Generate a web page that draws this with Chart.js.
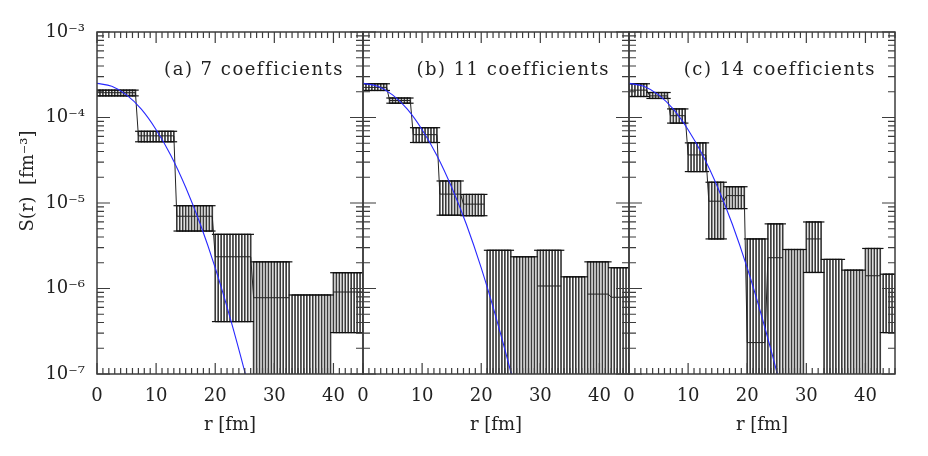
<!DOCTYPE html>
<html>
<head>
<meta charset="utf-8">
<script src="https://cdn.jsdelivr.net/npm/chart.js@4.4.1/dist/chart.umd.min.js"></script>
<style>
  html, body { margin: 0; padding: 0; background: #fff; }
  #wrap { position: relative; width: 928px; height: 456px; overflow: hidden; }
  #wrap canvas { position: absolute; top: 0; }
</style>
</head>
<body>
<div id="wrap">
  <canvas id="panelA" width="371" height="456" style="left:0px"></canvas>
  <canvas id="panelB" width="282" height="456" style="left:355px"></canvas>
  <canvas id="panelC" width="282" height="456" style="left:621px"></canvas>
</div>
<script>
// axes
const yMin = 1e-7, yMax = 1e-3;
const rMax = 45;
const yDecades = [1e-7, 1e-6, 1e-5, 1e-4, 1e-3];
const yDecadeLabels = ['10⁻⁷', '10⁻⁶', '10⁻⁵', '10⁻⁴', '10⁻³'];
const panelTitles = ['(a) 7 coefficients', '(b) 11 coefficients', '(c) 14 coefficients'];

// error bars are plotted every 0.5 fm
const sampleStep = 0.5;

// (a) 7 coefficients : bin edges [fm], S(r), upper / lower end of error (null = below the axis)
const edgesA = [0, 6.6, 13.2, 19.8, 26.4, 33.0, 39.6, 46.2];
const valA = [1.95e-4, 6.1e-5, 7.0e-6, 2.35e-6, 7.8e-7, null, 9.1e-7];
const hiA  = [2.09e-4, 6.9e-5, 9.3e-6, 4.3e-6, 2.05e-6, 8.4e-7, 1.53e-6];
const loA  = [1.79e-4, 5.2e-5, 4.7e-6, 4.1e-7, null, null, 3.05e-7];

// (b) 11 coefficients
const edgesB = [0, 4.2, 8.4, 12.6, 16.8, 21.0, 25.2, 29.4, 33.6, 37.8, 42.0, 46.2];
const valB = [2.25e-4, 1.58e-4, 6.3e-5, 1.27e-5, 9.7e-6, null, null, 1.07e-6, null, 8.6e-7, 7.9e-7];
const hiB  = [2.48e-4, 1.69e-4, 7.6e-5, 1.81e-5, 1.26e-5, 2.8e-6, 2.35e-6, 2.8e-6, 1.37e-6, 2.05e-6, 1.75e-6];
const loB  = [2.07e-4, 1.47e-4, 5.1e-5, 7.2e-6, 7.1e-6, null, null, null, null, null, null];

// (c) 14 coefficients
const edgesC = [0, 3.3, 6.6, 9.9, 13.2, 16.5, 19.8, 23.1, 26.4, 29.7, 33.0, 36.3, 39.6, 42.9, 46.2];
const valC = [2.09e-4, 1.79e-4, 1.05e-4, 3.65e-5, 1.05e-5, 1.22e-5, 2.33e-7, 2.29e-6, null, 3.8e-6, null, null, 1.41e-6, null];
const hiC  = [2.48e-4, 1.96e-4, 1.26e-4, 5.05e-5, 1.75e-5, 1.55e-5, 3.8e-6, 5.7e-6, 2.86e-6, 6.0e-6, 2.19e-6, 1.64e-6, 2.94e-6, 1.47e-6];
const loC  = [1.76e-4, 1.67e-4, 8.6e-5, 2.33e-5, 3.8e-6, 8.6e-6, null, null, null, 1.54e-6, null, null, null, 3.05e-7];

// blue curve (same in all panels)
const curveR = [0, 2.5, 5, 7.5, 10, 12.5, 15, 17.5, 20, 22.5, 25, 26];
const curveS = [2.51e-4, 2.32e-4, 1.84e-4, 1.25e-4, 7.2e-5, 3.6e-5, 1.53e-5, 5.6e-6, 1.74e-6, 4.6e-7, 1.06e-7, 5.6e-8];

const FONT = { family: '"DejaVu Serif", "Liberation Serif", serif', size: 18 };
const INK = '#222';

function binOf(edges, r) {
  for (let i = 0; i < edges.length - 1; i++) {
    if (r >= edges[i] && r < edges[i + 1]) return i;
  }
  return edges.length - 2;
}

// frame, inward ticks, panel label, y title
const panelDeco = {
  id: 'panelDeco',
  afterDatasetsDraw(chart, args, opts) {
    const {ctx, chartArea: a, scales: {x, y}} = chart;
    ctx.save();
    ctx.strokeStyle = '#3c3c3c';
    ctx.lineWidth = 1.2;
    ctx.beginPath();
    for (let r = 0; r <= rMax; r++) {
      const px = x.getPixelForValue(r);
      const len = r % 10 === 0 ? 11 : 6;
      ctx.moveTo(px, a.bottom); ctx.lineTo(px, a.bottom - len);
      ctx.moveTo(px, a.top); ctx.lineTo(px, a.top + len);
    }
    for (let k = 0; k < yDecades.length; k++) {
      for (let m = 1; m <= 9; m++) {
        if (k === yDecades.length - 1 && m > 1) break;
        const py = y.getPixelForValue(m * yDecades[k]);
        const len = m === 1 ? 13 : 7;
        ctx.moveTo(a.left, py); ctx.lineTo(a.left + len, py);
        ctx.moveTo(a.right, py); ctx.lineTo(a.right - len, py);
      }
    }
    ctx.stroke();
    ctx.lineWidth = 1.5;
    ctx.strokeRect(a.left, a.top, a.right - a.left, a.bottom - a.top);
    ctx.restore();
  },
  afterDraw(chart, args, opts) {
    const {ctx, chartArea: a} = chart;
    ctx.save();
    ctx.fillStyle = INK;
    ctx.font = FONT.size + 'px ' + FONT.family;
    ctx.letterSpacing = '1.5px';
    ctx.textAlign = 'right';
    ctx.textBaseline = 'middle';
    ctx.fillText(opts.title, a.right - 19, 70);
    if (opts.yTitle) {
      ctx.letterSpacing = '0px';
      ctx.translate(28, 181);
      ctx.rotate(-Math.PI / 2);
      ctx.textAlign = 'center';
      ctx.fillText(opts.yTitle, 0, 0);
    }
    ctx.restore();
  }
};

function buildPanel(id, edges, val, lo, hi, title, first) {
  const pts = [];
  for (let j = 0; j * sampleStep <= edges[edges.length - 1]; j++) pts.push(j * sampleStep);

  const hatch = pts.map(r => {
    const i = binOf(edges, r);
    return {x: r, y: [lo[i] === null ? yMin : lo[i], hi[i]]};
  });
  const caps = [];
  pts.forEach(r => {
    const i = binOf(edges, r);
    caps.push({x: r, y: hi[i]});
    if (lo[i] !== null) caps.push({x: r, y: lo[i]});
  });
  const step = pts.map(r => ({x: r, y: val[binOf(edges, r)]}));
  const curve = curveR.map((r, k) => ({x: r, y: curveS[k]}));

  return new Chart(document.getElementById(id), {
    type: 'line',
    data: {
      datasets: [
        { type: 'line', data: curve, borderColor: 'rgb(40,40,255)', borderWidth: 1.1,
          pointRadius: 0, cubicInterpolationMode: 'monotone', clip: 0 },
        { type: 'line', data: step, borderColor: '#222', borderWidth: 1,
          pointRadius: 0, spanGaps: false, clip: 0 },
        { type: 'scatter', data: caps, showLine: false, pointStyle: 'line',
          pointRadius: 3.3, pointHoverRadius: 3.3, pointBorderWidth: 1.2, pointBorderColor: '#111', clip: 0 },
        { type: 'bar', data: hatch, backgroundColor: '#3a3a3a', barThickness: 1,
          borderWidth: 0, grouped: false, clip: 0 }
      ]
    },
    options: {
      responsive: false,
      animation: false,
      events: [],
      layout: { padding: { top: 32, bottom: 0, left: first ? 0 : 8, right: 8 } },
      plugins: {
        legend: { display: false },
        tooltip: { enabled: false },
        panelDeco: { title: title, yTitle: first ? 'S(r)  [fm⁻³]' : null }
      },
      scales: {
        x: {
          type: 'linear', min: 0, max: rMax, offset: false,
          grid: { display: false, drawTicks: false },
          border: { display: false },
          ticks: { stepSize: 10, includeBounds: false, autoSkip: false, maxRotation: 0,
                   padding: 12, color: INK, font: FONT },
          title: { display: true, text: 'r [fm]', color: INK, font: FONT, padding: { top: 0, bottom: 20 } },
          afterFit: s => { s.height = 82; s.paddingLeft = 0; s.paddingRight = 0; }
        },
        y: {
          type: 'logarithmic', min: yMin, max: yMax, display: first,
          grid: { display: false, drawTicks: false },
          border: { display: false },
          ticks: {
            autoSkip: false, padding: 12, color: INK, font: FONT,
            callback: v => {
              const i = yDecades.findIndex(d => Math.abs(Math.log10(v / d)) < 1e-6);
              return i < 0 ? '' : yDecadeLabels[i];
            }
          },
          afterFit: s => { if (first) s.width = 97; s.paddingTop = 0; s.paddingBottom = 0; }
        }
      }
    },
    plugins: [panelDeco]
  });
}

buildPanel('panelA', edgesA, valA, loA, hiA, panelTitles[0], true);
buildPanel('panelB', edgesB, valB, loB, hiB, panelTitles[1], false);
buildPanel('panelC', edgesC, valC, loC, hiC, panelTitles[2], false);
</script>
</body>
</html>
